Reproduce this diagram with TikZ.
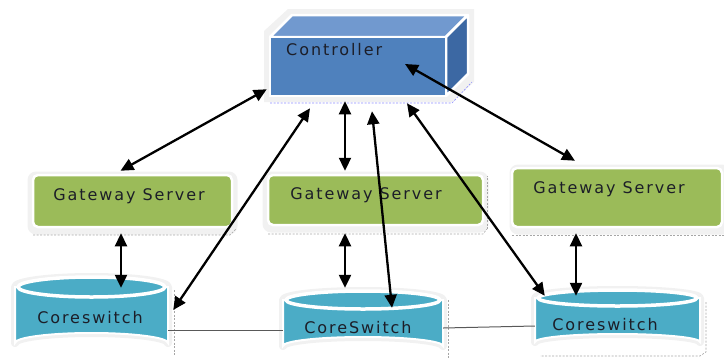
\documentclass[tikz,border=0pt]{standalone}
\usepackage{fontspec}
\setmainfont{DejaVu Sans}
\usetikzlibrary{arrows.meta,calc}
\definecolor{ctrlfront}{HTML}{4F81BD}
\definecolor{ctrltop}{HTML}{7199CF}
\definecolor{ctrlside}{HTML}{3C68A3}
\definecolor{gwgreen}{HTML}{9BBB59}
\definecolor{csaqua}{HTML}{4BACC6}
\definecolor{halo}{HTML}{F1F1F1}
\definecolor{txt}{HTML}{1C1E28}
\tikzset{
  lbl/.style={font=\fontsize{16}{18}\selectfont\addfontfeature{LetterSpace=12}, text=txt, inner sep=0pt},
  gwbox/.style={rectangle, rounded corners=5pt, fill=gwgreen, draw=white, line width=2.5pt},
  gwhalo/.style={rectangle, rounded corners=7pt, fill=halo, draw=halo, line width=3pt},
  area/.style={rectangle, inner sep=0pt},
  link/.style={line width=2.3pt, {Triangle[length=13pt,width=12pt]}-{Triangle[length=13pt,width=12pt]}},
  plain/.style={line width=1pt, black!65},
  sel/.style={gray!70, line width=0.6pt, dash pattern=on 2pt off 1.5pt},
}
\newcommand{\mycyl}[6]{% x1 x2 ytop ybot ry
  \fill[halo, draw=halo, line width=8pt, line join=round] (#1,#3) -- (#1,#4-#5) arc[start angle=180, end angle=360, x radius={(#2-#1)/2}, y radius=#5] -- (#2,#3) arc[start angle=0, end angle=-180, x radius={(#2-#1)/2}, y radius=#5] -- cycle;
  \fill[csaqua, draw=white, line width=2pt] (#1,#3) -- (#1,#4-#5) arc[start angle=180, end angle=360, x radius={(#2-#1)/2}, y radius=#5] -- (#2,#3) -- cycle;
  \fill[csaqua, draw=white, line width=3.5pt] ({(#1+#2)/2},#3) ellipse[x radius={(#2-#1)/2-3}, y radius=#5];
}
\begin{document}
\begin{tikzpicture}[x=1pt,y=-1pt]
\useasboundingbox (0,0) rectangle (724,360);
% ---------- Controller (3D box)
\fill[halo] (264,31) -- (288,9) -- (474,9) -- (474,82) -- (452,102) -- (264,102) -- cycle;
\fill[ctrltop, draw=white, line width=2.5pt, line join=round] (270,37) -- (292,15) -- (468,15) -- (446,37) -- cycle;
\fill[ctrlside, draw=white, line width=2.5pt, line join=round] (446,37) -- (468,15) -- (468,74) -- (446,96) -- cycle;
\node[area, fill=ctrlfront, draw=white, line width=2.5pt, minimum width=176pt, minimum height=59pt] (ctrl) at (358,66.5) {};
\node[lbl, anchor=west] (ctrlt) at (286,50) {Controller};
\draw[sel, blue!45] (270,103) -- (452,103) -- (472,82);
% ---------- Gateway servers
\node[gwhalo, minimum width=207pt, minimum height=60pt] at (132.5,203) {};
\node[gwbox, minimum width=199pt, minimum height=52pt] (gw1) at (132.5,201) {};
\node[lbl] (gw1t) at (129,196) {Gateway Server};
\node[gwhalo, minimum width=223pt, minimum height=58pt] at (375.5,202) {};
\node[gwbox, minimum width=215pt, minimum height=50pt] (gw2) at (375.5,200) {};
\node[lbl] (gw2t) at (366,195) {Gateway Server};
\node[gwhalo, minimum width=218pt, minimum height=67pt] at (620,199.5) {};
\node[gwbox, minimum width=210pt, minimum height=59pt] (gw3) at (617,197.5) {};
\node[lbl] (gw3t) at (609,189) {Gateway Server};
\draw[sel] (33,235) -- (230,235) -- (236,229);
\draw[sel] (268,234) -- (483,234) -- (487,229);
\draw[sel] (487,229) -- (487,176);
\draw[sel] (512,235) -- (724,235);
% ---------- Core switches
\mycyl{15}{168}{287}{353}{10}{cs1}
\node[area, minimum width=153pt, minimum height=76pt] (cs1) at (91.5,315) {};
\node[lbl] (cs1t) at (90,318) {Coreswitch};
\mycyl{283}{443}{300}{355}{9}{cs2}
\node[area, minimum width=160pt, minimum height=64pt] (cs2) at (363,323) {};
\node[lbl] (cs2t) at (358,328) {CoreSwitch};
\mycyl{535}{700}{298}{350}{8}{cs3}
\node[area, minimum width=165pt, minimum height=60pt] (cs3) at (617.5,320) {};
\node[lbl] (cs3t) at (605,325) {Coreswitch};
\draw[sel] (174,290) -- (174,355);
\draw[sel] (448,300) -- (448,358);
\draw[sel] (706,302) -- (706,352) -- (700,356) -- (540,356);
% ---------- links between core switches
\draw[plain] ([yshift=-15pt]cs1.east) -- ([yshift=-7pt]cs2.west);
\draw[plain] ([yshift=-5pt]cs2.east) -- ([yshift=-6pt]cs3.west);
% ---------- arrows
\draw[link] ([xshift=-2pt,yshift=8pt]ctrl.south west) -- ([xshift=-12pt,yshift=3pt]gw1.north);
\draw[link] ([xshift=-48pt,yshift=-11pt]ctrl.south) -- ([xshift=5pt,yshift=5pt]cs1.east);
\draw[link] ([xshift=-13pt,yshift=-4pt]ctrl.south) -- ([xshift=-30.5pt,yshift=3pt]gw2.north);
\draw[link] ([xshift=14pt,yshift=-14pt]ctrl.south) -- ([xshift=29pt,yshift=-17pt]cs2.north);
\draw[link] ([xshift=49pt,yshift=-6pt]ctrl.south) -- ([xshift=10pt,yshift=-6pt]cs3.north west);
\draw[link] ([xshift=47pt,yshift=2.5pt]ctrl.center) -- ([xshift=-42pt,yshift=6pt]gw3.north);
\draw[link] ([xshift=-11.5pt,yshift=-5pt]gw1.south) -- ([xshift=29.5pt,yshift=-11pt]cs1.north);
\draw[link] ([xshift=-30.5pt,yshift=-7pt]gw2.south) -- ([xshift=-18pt,yshift=3pt]cs2.north);
\draw[link] ([xshift=-41pt,yshift=-5pt]gw3.south) -- ([xshift=-41.5pt,yshift=-6pt]cs3.north);
\end{tikzpicture}
\end{document}
